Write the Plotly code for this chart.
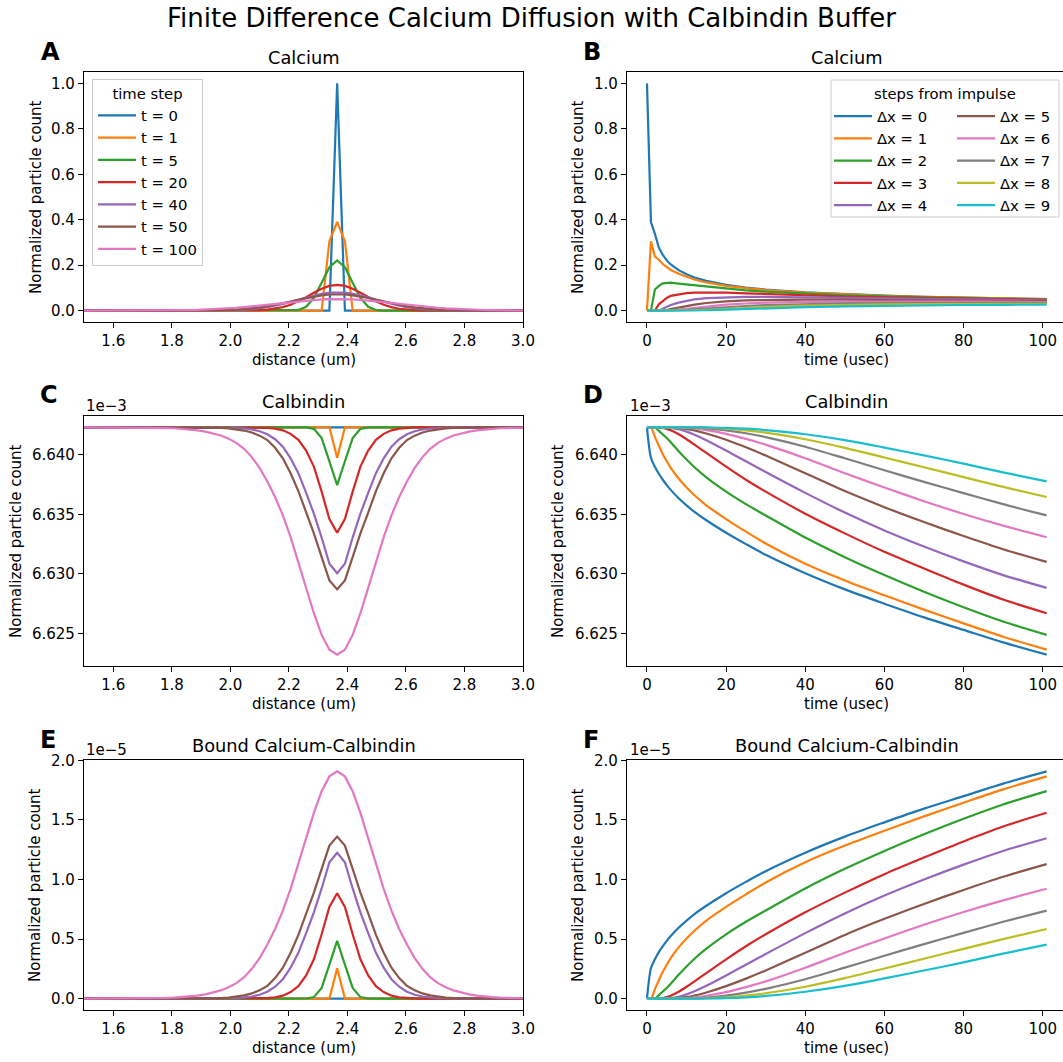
import plotly.graph_objects as go

W, H = 1063, 1062
FONT = "DejaVu Sans"
FS = 15.0
LFS = 14.8
COLORS = ["#1f77b4", "#ff7f0e", "#2ca02c", "#d62728", "#9467bd",
          "#8c564b", "#e377c2", "#7f7f7f", "#bcbd22", "#17becf"]

# ---------------- data ----------------
impulse_position_um = 2.365
grid_spacing_um = 0.0265
time_steps_shown = [0, 1, 5, 20, 40, 50, 100]
steps_from_impulse = [0, 1, 2, 3, 4, 5, 6, 7, 8, 9]
time_usec = [0, 1, 2, 3, 4, 5, 6, 8, 10, 12, 15, 20, 25, 30, 40, 50, 60, 70, 80, 90, 101]

# spatial profiles, value at 0,1,2,... grid steps from the impulse (symmetric)
ca_t0 = [1.0]
ca_t1 = [0.39, 0.305]
ca_t5 = [0.2207, 0.1911, 0.1227, 0.0564, 0.0169, 0.0027]
ca_t20 = [0.1135, 0.109, 0.0965, 0.079, 0.0593, 0.041, 0.0261, 0.0153, 0.0083, 0.0041,
          0.0019, 0.0008, 0.0003, 0.0001]
ca_t40 = [0.0806, 0.0791, 0.0743, 0.0672, 0.0582, 0.0484, 0.0386, 0.0296, 0.0218, 0.0154,
          0.0104, 0.0068, 0.0042, 0.0025, 0.0015, 0.0008, 0.0004, 0.0002, 0.0001]
ca_t50 = [0.0721, 0.0709, 0.0675, 0.0623, 0.0555, 0.0479, 0.04, 0.0323, 0.0253, 0.0191,
          0.014, 0.0099, 0.0068, 0.0045, 0.0029, 0.0018, 0.0011, 0.0006, 0.0004, 0.0002, 0.0001]
ca_t100 = [0.0511, 0.0507, 0.0494, 0.0475, 0.0448, 0.0416, 0.038, 0.0342, 0.0302, 0.0263,
           0.0225, 0.019, 0.0157, 0.0128, 0.0102, 0.0081, 0.0063, 0.0048, 0.0036, 0.0027,
           0.0019, 0.0014, 0.001, 0.0007, 0.0005, 0.0003, 0.0002, 0.0001]

calbindin_rest_e3 = 6.6423
calb_t0 = [6.6423]
calb_t1 = [6.63975]
calb_t5 = [6.63745, 6.63945, 6.6414, 6.64217, 6.64229]
calb_t20 = [6.63345, 6.6346, 6.6369, 6.639, 6.64035, 6.64125, 6.64175, 6.64205, 6.64219,
            6.64226, 6.64229, 6.6423]
calb_t40 = [6.63005, 6.63085, 6.63305, 6.63505, 6.6368, 6.63845, 6.6397, 6.64067, 6.6413,
            6.64172, 6.64197, 6.64212, 6.6422, 6.64225, 6.64228, 6.64229]
calb_t50 = [6.6287, 6.62945, 6.6314, 6.6334, 6.63515, 6.63695, 6.63845, 6.6397, 6.64058,
            6.64123, 6.6416, 6.64186, 6.64203, 6.64214, 6.64221, 6.64225, 6.64228, 6.64229]
calb_t100 = [6.62322, 6.62364, 6.62488, 6.6267, 6.62883, 6.63101, 6.63308, 6.63491, 6.63645,
             6.63776, 6.6389, 6.6398, 6.6405, 6.641, 6.64135, 6.64161, 6.6418, 6.64194,
             6.64204, 6.64212, 6.64218, 6.64222, 6.64224, 6.64226, 6.64228, 6.64228, 6.64229,
             6.64229]

bound_t0 = [0.0]
bound_t1 = [0.255]
bound_t5 = [0.485, 0.285, 0.09, 0.013, 0.001]
bound_t20 = [0.885, 0.77, 0.54, 0.33, 0.195, 0.105, 0.055, 0.025, 0.011, 0.004, 0.0015, 0.0005]
bound_t40 = [1.225, 1.145, 0.925, 0.725, 0.55, 0.385, 0.26, 0.163, 0.10, 0.058, 0.033, 0.018,
             0.01, 0.005, 0.0025, 0.001]
bound_t50 = [1.36, 1.285, 1.09, 0.89, 0.715, 0.535, 0.385, 0.26, 0.172, 0.107, 0.07, 0.044,
             0.027, 0.016, 0.009, 0.005, 0.0025, 0.001]
bound_t100 = [1.908, 1.866, 1.742, 1.56, 1.347, 1.129, 0.922, 0.739, 0.585, 0.454, 0.34, 0.25,
              0.18, 0.13, 0.095, 0.069, 0.05, 0.036, 0.026, 0.018, 0.0125, 0.0085, 0.0057,
              0.0038, 0.0025, 0.0016, 0.001, 0.0006, 0.0003, 0.0001]

# time courses at 0..9 grid steps from the impulse
ca_dx0 = [1.0, 0.39, 0.338, 0.277, 0.245, 0.221, 0.203, 0.178, 0.160, 0.146, 0.131, 0.1135, 0.1018, 0.093, 0.0806, 0.0721, 0.0658, 0.061, 0.0571, 0.0538, 0.0508]
ca_dx1 = [0, 0.305, 0.238, 0.224, 0.205, 0.191, 0.179, 0.162, 0.148, 0.137, 0.124, 0.109, 0.0987, 0.0906, 0.0791, 0.0709, 0.0649, 0.0603, 0.0565, 0.0533, 0.0504]
ca_dx2 = [0, 0, 0.093, 0.109, 0.120, 0.123, 0.123, 0.119, 0.1155, 0.1115, 0.1055, 0.0965, 0.0894, 0.0834, 0.0743, 0.0675, 0.0624, 0.0583, 0.0548, 0.0519, 0.0492]
ca_dx3 = [0, 0, 0, 0.028, 0.044, 0.056, 0.065, 0.072, 0.077, 0.0795, 0.0805, 0.079, 0.076, 0.073, 0.0672, 0.0623, 0.0583, 0.055, 0.0521, 0.0496, 0.0472]
ca_dx4 = [0, 0, 0, 0, 0.0087, 0.0169, 0.0246, 0.035, 0.0435, 0.0494, 0.055, 0.0593, 0.0605, 0.0603, 0.0582, 0.0555, 0.053, 0.0507, 0.0485, 0.0465, 0.0446]
ca_dx5 = [0, 0, 0, 0, 0, 0.0027, 0.0063, 0.0139, 0.0208, 0.0267, 0.0336, 0.041, 0.045, 0.0471, 0.0484, 0.0479, 0.0468, 0.0456, 0.0442, 0.0428, 0.0415]
ca_dx6 = [0, 0, 0, 0, 0, 0, 0.0008, 0.0045, 0.0084, 0.0126, 0.0184, 0.0261, 0.0314, 0.0349, 0.0386, 0.04, 0.0403, 0.0401, 0.0395, 0.0388, 0.0379]
ca_dx7 = [0, 0, 0, 0, 0, 0, 0, 0.0012, 0.0029, 0.0052, 0.0091, 0.0153, 0.0205, 0.0245, 0.0296, 0.0323, 0.0337, 0.0344, 0.0346, 0.0344, 0.0341]
ca_dx8 = [0, 0, 0, 0, 0, 0, 0, 0.0003, 0.0009, 0.0019, 0.004, 0.0083, 0.0125, 0.0162, 0.0218, 0.0253, 0.0275, 0.0289, 0.0296, 0.03, 0.0302]
ca_dx9 = [0, 0, 0, 0, 0, 0, 0, 0.0001, 0.0002, 0.0006, 0.0016, 0.0041, 0.0072, 0.0102, 0.0154, 0.0191, 0.0218, 0.0237, 0.0249, 0.0257, 0.0263]

calb_dx0 = [6.6423, 6.63975, 6.639, 6.6384, 6.6379, 6.63745, 6.63705, 6.63635, 6.63575, 6.6352, 6.6345, 6.63345, 6.6325, 6.6316, 6.63005, 6.6287, 6.6275, 6.62635, 6.6253, 6.62425, 6.62322]
calb_dx1 = [6.6423, 6.6423, 6.6415, 6.64075, 6.64005, 6.63945, 6.6389, 6.638, 6.63725, 6.6366, 6.63575, 6.6346, 6.63355, 6.63255, 6.63085, 6.62945, 6.6282, 6.627, 6.62585, 6.62473, 6.62364]
calb_dx2 = [6.6423, 6.6423, 6.6423, 6.642, 6.6417, 6.6414, 6.64105, 6.6403, 6.6396, 6.63895, 6.6381, 6.6369, 6.63585, 6.6349, 6.63305, 6.6314, 6.6299, 6.6285, 6.6272, 6.626, 6.62488]
calb_dx3 = [6.6423, 6.6423, 6.6423, 6.6423, 6.64225, 6.64217, 6.64205, 6.64172, 6.6413, 6.64085, 6.64015, 6.639, 6.6379, 6.6369, 6.63505, 6.6334, 6.63185, 6.63045, 6.6291, 6.62785, 6.6267]
calb_dx4 = [6.6423, 6.6423, 6.6423, 6.6423, 6.6423, 6.64229, 6.64226, 6.64214, 6.64194, 6.64168, 6.64122, 6.64035, 6.63945, 6.63855, 6.6368, 6.63515, 6.63365, 6.6323, 6.63105, 6.6299, 6.62883]
calb_dx5 = [6.6423, 6.6423, 6.6423, 6.6423, 6.6423, 6.6423, 6.64229, 6.64225, 6.64217, 6.64204, 6.64178, 6.64125, 6.64062, 6.63993, 6.63845, 6.63695, 6.6356, 6.63435, 6.63318, 6.63207, 6.63101]
calb_dx6 = [6.6423, 6.6423, 6.6423, 6.6423, 6.6423, 6.6423, 6.6423, 6.64229, 6.64226, 6.6422, 6.64206, 6.64175, 6.64133, 6.64085, 6.6397, 6.63845, 6.63725, 6.6361, 6.63503, 6.63405, 6.63308]
calb_dx7 = [6.6423, 6.6423, 6.6423, 6.6423, 6.6423, 6.6423, 6.6423, 6.6423, 6.64229, 6.64227, 6.64221, 6.64205, 6.6418, 6.64148, 6.64067, 6.6397, 6.6387, 6.63772, 6.63678, 6.63585, 6.63491]
calb_dx8 = [6.6423, 6.6423, 6.6423, 6.6423, 6.6423, 6.6423, 6.6423, 6.6423, 6.6423, 6.64229, 6.64227, 6.64219, 6.64205, 6.64185, 6.6413, 6.64058, 6.63977, 6.63895, 6.63812, 6.6373, 6.63645]
calb_dx9 = [6.6423, 6.6423, 6.6423, 6.6423, 6.6423, 6.6423, 6.6423, 6.6423, 6.6423, 6.6423, 6.64229, 6.64226, 6.64219, 6.64207, 6.64172, 6.64123, 6.6406, 6.63994, 6.63925, 6.63852, 6.63776]

bound_dx0 = [0, 0.255, 0.33, 0.39, 0.44, 0.485, 0.525, 0.595, 0.655, 0.71, 0.78, 0.885, 0.98, 1.07, 1.225, 1.36, 1.48, 1.595, 1.70, 1.805, 1.908]
bound_dx1 = [0, 0, 0.08, 0.155, 0.225, 0.285, 0.34, 0.43, 0.505, 0.57, 0.655, 0.77, 0.875, 0.975, 1.145, 1.285, 1.41, 1.53, 1.645, 1.757, 1.866]
bound_dx2 = [0, 0, 0, 0.03, 0.06, 0.09, 0.125, 0.2, 0.27, 0.335, 0.42, 0.54, 0.645, 0.74, 0.925, 1.09, 1.24, 1.38, 1.51, 1.63, 1.742]
bound_dx3 = [0, 0, 0, 0, 0.005, 0.013, 0.025, 0.058, 0.1, 0.145, 0.215, 0.33, 0.44, 0.54, 0.725, 0.89, 1.045, 1.185, 1.32, 1.445, 1.56]
bound_dx4 = [0, 0, 0, 0, 0, 0.001, 0.004, 0.016, 0.036, 0.062, 0.108, 0.195, 0.285, 0.375, 0.55, 0.715, 0.865, 1.0, 1.125, 1.24, 1.347]
bound_dx5 = [0, 0, 0, 0, 0, 0, 0.001, 0.005, 0.013, 0.026, 0.052, 0.105, 0.168, 0.237, 0.385, 0.535, 0.67, 0.795, 0.912, 1.023, 1.129]
bound_dx6 = [0, 0, 0, 0, 0, 0, 0, 0.001, 0.004, 0.01, 0.024, 0.055, 0.097, 0.145, 0.26, 0.385, 0.505, 0.62, 0.727, 0.825, 0.922]
bound_dx7 = [0, 0, 0, 0, 0, 0, 0, 0, 0.001, 0.003, 0.009, 0.025, 0.05, 0.082, 0.163, 0.26, 0.36, 0.458, 0.552, 0.645, 0.739]
bound_dx8 = [0, 0, 0, 0, 0, 0, 0, 0, 0, 0.001, 0.003, 0.011, 0.025, 0.045, 0.1, 0.172, 0.253, 0.335, 0.418, 0.5, 0.585]
bound_dx9 = [0, 0, 0, 0, 0, 0, 0, 0, 0, 0, 0.001, 0.004, 0.011, 0.023, 0.058, 0.107, 0.17, 0.236, 0.305, 0.378, 0.454]

ca_profiles = [ca_t0, ca_t1, ca_t5, ca_t20, ca_t40, ca_t50, ca_t100]
calb_profiles = [calb_t0, calb_t1, calb_t5, calb_t20, calb_t40, calb_t50, calb_t100]
bound_profiles = [bound_t0, bound_t1, bound_t5, bound_t20, bound_t40, bound_t50, bound_t100]
ca_courses = [ca_dx0, ca_dx1, ca_dx2, ca_dx3, ca_dx4, ca_dx5, ca_dx6, ca_dx7, ca_dx8, ca_dx9]
calb_courses = [calb_dx0, calb_dx1, calb_dx2, calb_dx3, calb_dx4, calb_dx5, calb_dx6, calb_dx7, calb_dx8, calb_dx9]
bound_courses = [bound_dx0, bound_dx1, bound_dx2, bound_dx3, bound_dx4, bound_dx5, bound_dx6, bound_dx7, bound_dx8, bound_dx9]

GRID_STEPS = list(range(-34, 26))


def full_profile(half, rest):
    xs = [impulse_position_um + k * grid_spacing_um for k in GRID_STEPS]
    ys = [half[abs(k)] if abs(k) < len(half) else rest for k in GRID_STEPS]
    return xs, ys


# ---------------- layout helpers ----------------
def px(x):
    return x / W


def py(y):
    return 1 - y / H


LEFT = [px(84), px(523)]
RIGHT = [px(627), 1.0]
ROWS = [[py(322), py(72)], [py(666), py(416)], [py(1010), py(760)]]
ROW_TOP = [72, 416, 760]
ROW_BOT = [322, 666, 1010]

fig = go.Figure()

LW = 2.2
for i, (t, half) in enumerate(zip(time_steps_shown, ca_profiles)):
    xs, ys = full_profile(half, 0.0)
    fig.add_trace(go.Scatter(x=xs, y=ys, mode="lines", line=dict(color=COLORS[i], width=LW),
                             name=f"t = {t}", legend="legend", xaxis="x", yaxis="y"))
for i, half in enumerate(calb_profiles):
    xs, ys = full_profile(half, calbindin_rest_e3)
    fig.add_trace(go.Scatter(x=xs, y=ys, mode="lines", line=dict(color=COLORS[i], width=LW),
                             showlegend=False, xaxis="x3", yaxis="y3"))
for i, half in enumerate(bound_profiles):
    xs, ys = full_profile(half, 0.0)
    fig.add_trace(go.Scatter(x=xs, y=ys, mode="lines", line=dict(color=COLORS[i], width=LW),
                             showlegend=False, xaxis="x5", yaxis="y5"))
for k, ys in zip(steps_from_impulse, ca_courses):
    fig.add_trace(go.Scatter(x=time_usec, y=ys, mode="lines", line=dict(color=COLORS[k], width=LW),
                             name=f"\u0394x = {k}", legend="legend2" if k < 5 else "legend3",
                             xaxis="x2", yaxis="y2"))
for k, ys in zip(steps_from_impulse, calb_courses):
    fig.add_trace(go.Scatter(x=time_usec, y=ys, mode="lines",
                             line=dict(color=COLORS[k], width=LW, shape="spline", smoothing=0.8),
                             showlegend=False, xaxis="x4", yaxis="y4"))
for k, ys in zip(steps_from_impulse, bound_courses):
    fig.add_trace(go.Scatter(x=time_usec, y=ys, mode="lines",
                             line=dict(color=COLORS[k], width=LW, shape="spline", smoothing=0.8),
                             showlegend=False, xaxis="x6", yaxis="y6"))

axis_common = dict(showline=True, linecolor="black", linewidth=1.2, ticks="outside", ticklen=5,
                   tickwidth=1.2, tickcolor="black", showgrid=False, zeroline=False,
                   tickfont=dict(family=FONT, size=FS, color="black"))

dist_ticks = [1.6, 1.8, 2.0, 2.2, 2.4, 2.6, 2.8, 3.0]
time_ticks = [0, 20, 40, 60, 80, 100]
ca_ticks = [0.0, 0.2, 0.4, 0.6, 0.8, 1.0]
calb_ticks = [6.625, 6.630, 6.635, 6.640]
bound_ticks = [0.0, 0.5, 1.0, 1.5, 2.0]

xdist = dict(axis_common, range=[1.5, 3.0], tickvals=dist_ticks,
             ticktext=[f"{v:.1f}" for v in dist_ticks], domain=LEFT, mirror=True)
xtime = dict(axis_common, range=[-5.05, 105.13], tickvals=time_ticks,
             ticktext=[str(v) for v in time_ticks], domain=RIGHT, mirror=True)
yca = dict(axis_common, range=[-0.05, 1.05], tickvals=ca_ticks, ticktext=[f"{v:.1f}" for v in ca_ticks])
ycalb = dict(axis_common, range=[6.62227, 6.64325], tickvals=calb_ticks, ticktext=[f"{v:.3f}" for v in calb_ticks])
ybound = dict(axis_common, range=[-0.0954, 2.0034], tickvals=bound_ticks, ticktext=[f"{v:.1f}" for v in bound_ticks])

fig.update_layout(
    xaxis=dict(xdist, anchor="y"),
    yaxis=dict(yca, domain=ROWS[0], anchor="x", mirror=True),
    xaxis2=dict(xtime, anchor="y2"),
    yaxis2=dict(yca, domain=ROWS[0], anchor="x2", mirror=False),
    xaxis3=dict(xdist, anchor="y3"),
    yaxis3=dict(ycalb, domain=ROWS[1], anchor="x3", mirror=True),
    xaxis4=dict(xtime, anchor="y4"),
    yaxis4=dict(ycalb, domain=ROWS[1], anchor="x4", mirror=False),
    xaxis5=dict(xdist, anchor="y5"),
    yaxis5=dict(ybound, domain=ROWS[2], anchor="x5", mirror=True),
    xaxis6=dict(xtime, anchor="y6"),
    yaxis6=dict(ybound, domain=ROWS[2], anchor="x6", mirror=False),
)

ann = []


def text(x, y, s, size=FS, bold=False, angle=0, xanchor="center", yanchor="middle"):
    ann.append(dict(x=px(x), y=py(y), xref="paper", yref="paper", text=f"<b>{s}</b>" if bold else s,
                    showarrow=False, textangle=angle, xanchor=xanchor, yanchor=yanchor,
                    font=dict(family=FONT, size=size, color="black")))


text(531.5, 18, "Finite Difference Calcium Diffusion with Calbindin Buffer", size=26)
LC, RC = 303.5, 846.8
titles = ["Calcium", "Calbindin", "Bound Calcium-Calbindin"]
for r in range(3):
    text(LC, ROW_TOP[r] - 14.5, titles[r], size=17.8)
    text(RC, ROW_TOP[r] - 14.5, titles[r], size=17.8)
    text(LC, ROW_BOT[r] + 38, "distance (um)")
    text(RC, ROW_BOT[r] + 38, "time (usec)")
letters = [("A", 50, 52), ("B", 592, 52), ("C", 49, 395), ("D", 593, 395), ("E", 48, 740), ("F", 591, 740)]
for s, x, y in letters:
    text(x, y, s, size=24, bold=True)
ylab = [(36, 197), (578, 197), (16, 541), (558, 541), (35, 885), (578, 885)]
for x, y in ylab:
    text(x, y, "Normalized particle count", angle=-90)
for x in (84, 628):
    text(x, 406, "1e\u22123", xanchor="left")
    text(x, 750, "1e\u22125", xanchor="left")
text(945, 93, "steps from impulse", size=LFS)

fig.update_layout(
    annotations=ann,
    width=W, height=H,
    margin=dict(l=0, r=0, t=0, b=0, autoexpand=False),
    paper_bgcolor="white", plot_bgcolor="white",
    font=dict(family=FONT, size=FS, color="black"),
    legend=dict(x=px(92), y=py(79), xanchor="left", yanchor="top", itemwidth=38,
                bgcolor="rgba(255,255,255,0.8)", bordercolor="#cccccc", borderwidth=1,
                font=dict(family=FONT, size=LFS, color="black"),
                title=dict(text="time step", side="top center",
                           font=dict(family=FONT, size=LFS, color="black"))),
    legend2=dict(x=px(829), y=py(100), xanchor="left", yanchor="top", itemwidth=38,
                 bgcolor="rgba(0,0,0,0)", borderwidth=0,
                 font=dict(family=FONT, size=LFS, color="black")),
    legend3=dict(x=px(952), y=py(100), xanchor="left", yanchor="top", itemwidth=38,
                 bgcolor="rgba(0,0,0,0)", borderwidth=0,
                 font=dict(family=FONT, size=LFS, color="black")),
    shapes=[dict(type="rect", xref="paper", yref="paper", x0=px(831), x1=px(1059), y0=py(217), y1=py(80),
                 line=dict(color="#cccccc", width=1), fillcolor="rgba(255,255,255,0.8)", layer="above")],
)

fig.write_html("out.html")
